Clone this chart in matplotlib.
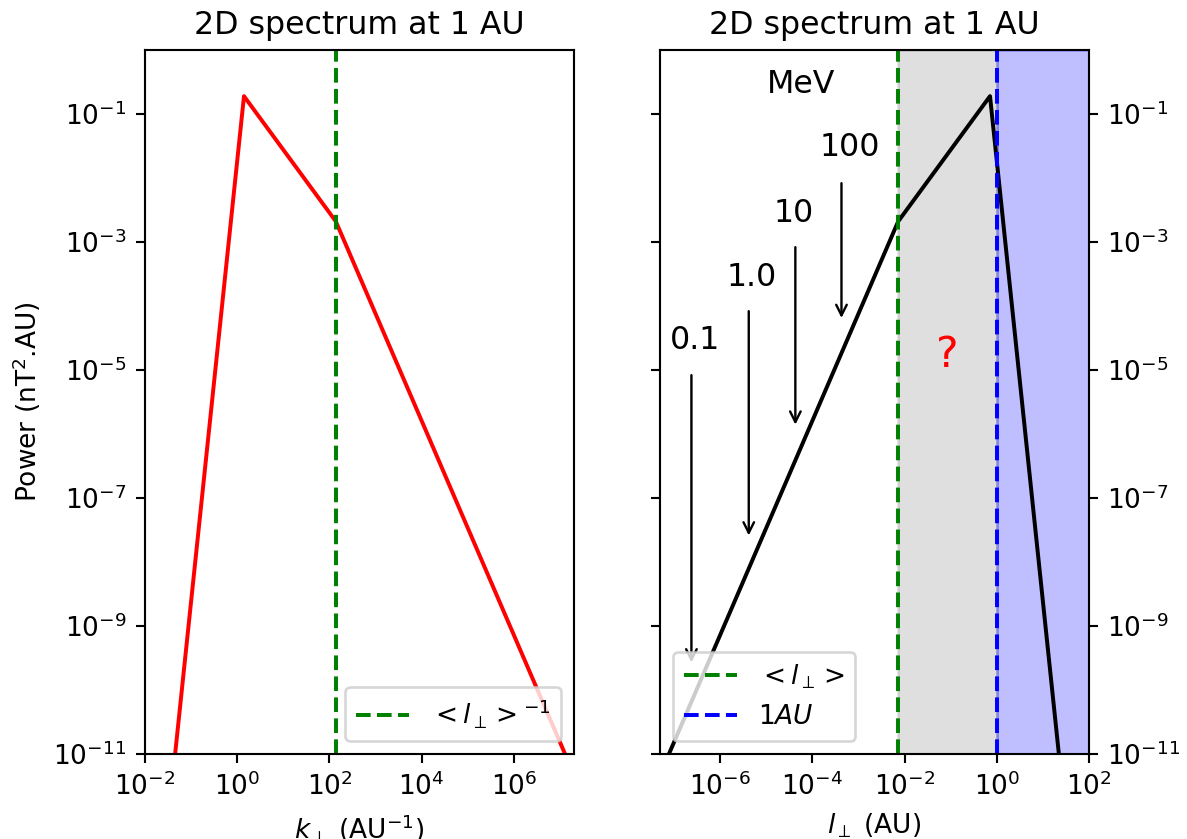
import numpy as np
import matplotlib.pyplot as plt

# --- data ---
k_perp = [0.045, 1.4, 137.0, 1.28e7]          # AU^-1
power = [1e-11, 0.19, 2.1e-3, 1e-11]          # nT^2.AU
l_perp = [1.0 / k for k in k_perp]            # AU
k_corr = 137.0                                # <l_perp>^-1
l_corr = 1.0 / k_corr
l_1au = 1.0

ytick_vals = [1e-11, 1e-9, 1e-7, 1e-5, 1e-3, 1e-1]
xtick_left = [1e-2, 1e0, 1e2, 1e4, 1e6]
xtick_right = [1e-6, 1e-4, 1e-2, 1e0, 1e2]

# energy labels and arrows (text pos, arrow start, arrow end)
energy_labels = ['0.1', '1.0', '10', '100']
label_x = [2.8e-7, 4.8e-6, 4.0e-5, 6.6e-4]
label_y = [2.9e-5, 2.8e-4, 2.8e-3, 2.95e-2]
arrow_x = [2.4e-7, 4.2e-6, 4.3e-5, 4.3e-4]
arrow_y0 = [8.3e-6, 8.3e-5, 8.3e-4, 8.3e-3]
arrow_y1 = [2.7e-10, 2.6e-8, 1.4e-6, 6.5e-5]

dpi = 190
fig = plt.figure(figsize=(1187 / dpi, 839 / dpi), dpi=dpi)
ax1 = fig.add_axes([145 / 1187, 85 / 839, 429 / 1187, 704 / 839])
ax2 = fig.add_axes([660 / 1187, 85 / 839, 429 / 1187, 704 / 839])

# --- left: wavenumber spectrum ---
ax1.plot(k_perp, power, color='red')
ax1.axvline(k_corr, color='green', linestyle='--', label=r'$< l_\perp >^{-1}$')
ax1.set_xscale('log')
ax1.set_yscale('log')
ax1.set_xlim(1e-2, 2e7)
ax1.set_ylim(1e-11, 1)
ax1.set_xticks(xtick_left)
ax1.set_yticks(ytick_vals)
ax1.minorticks_off()
ax1.set_xlabel(r'$k_\perp$ (AU$^{-1}$)')
ax1.set_ylabel(r'Power (nT$^2$.AU)')
ax1.set_title('2D spectrum at 1 AU')
ax1.legend(loc='lower right')

# --- right: length-scale spectrum ---
ax2.axvspan(l_corr, l_1au, color='grey', alpha=0.25)
ax2.axvspan(l_1au, 1e2, color='blue', alpha=0.25)
ax2.plot(l_perp, power, color='black')
ax2.axvline(l_corr, color='green', linestyle='--', label=r'$< l_\perp >$')
ax2.axvline(l_1au, color='blue', linestyle='--', label=r'$1AU$')
ax2.set_xscale('log')
ax2.set_yscale('log')
ax2.set_xlim(5e-8, 1e2)
ax2.set_ylim(1e-11, 1)
ax2.set_xticks(xtick_right)
ax2.set_yticks(ytick_vals)
ax2.minorticks_off()
ax2.tick_params(axis='y', left=True, right=True, labelleft=False, labelright=True)
ax2.set_xlabel(r'$l_\perp$ (AU)')
ax2.set_title('2D spectrum at 1 AU')

for lab, tx, ty, ax_, y0, y1 in zip(energy_labels, label_x, label_y, arrow_x, arrow_y0, arrow_y1):
    ax2.text(tx, ty, lab, fontsize=12, ha='center', va='center')
    ax2.annotate('', xy=(ax_, y1), xytext=(ax_, y0),
                 arrowprops=dict(arrowstyle='->', lw=0.9, color='black',
                                 shrinkA=0, shrinkB=0))
ax2.text(5.7e-5, 0.29, 'MeV', fontsize=12, ha='center', va='center')
ax2.text(0.084, 1.7e-5, '?', fontsize=16, color='red', ha='center', va='center')
ax2.legend(loc='lower left')

fig.savefig('out.png', dpi=dpi)
